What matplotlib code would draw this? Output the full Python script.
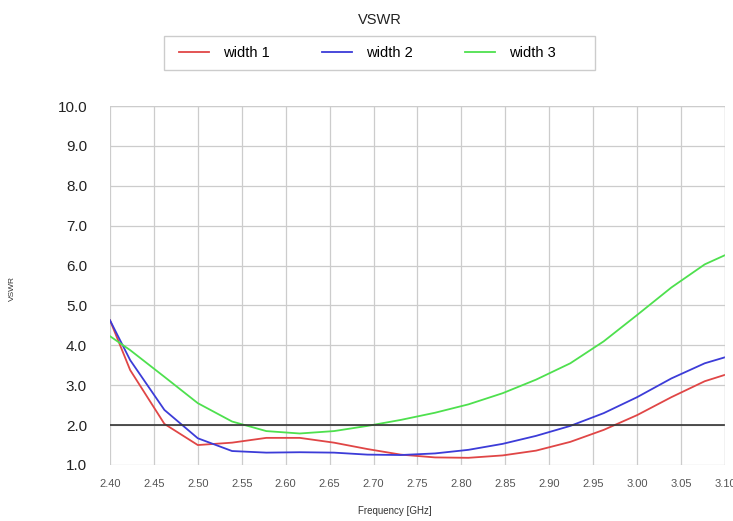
import matplotlib
matplotlib.use("Agg")
import matplotlib.pyplot as plt
from matplotlib.patches import Rectangle

plt.rcParams["font.family"] = ["Liberation Sans", "DejaVu Sans"]

freq = [2.400, 2.423, 2.462, 2.500, 2.539, 2.578, 2.616, 2.655, 2.693, 2.731,
        2.770, 2.808, 2.847, 2.885, 2.924, 2.962, 3.000, 3.039, 3.077, 3.100]
width_1 = [4.63, 3.38, 2.03, 1.50, 1.56, 1.68, 1.68, 1.56, 1.40, 1.26,
           1.19, 1.18, 1.24, 1.36, 1.58, 1.88, 2.25, 2.70, 3.10, 3.26]
width_2 = [4.63, 3.63, 2.38, 1.67, 1.35, 1.31, 1.32, 1.31, 1.26, 1.25,
           1.29, 1.38, 1.53, 1.73, 1.98, 2.30, 2.70, 3.17, 3.55, 3.70]
width_3 = [4.23, 3.88, 3.21, 2.55, 2.09, 1.85, 1.79, 1.85, 1.98, 2.13,
           2.31, 2.52, 2.80, 3.14, 3.55, 4.10, 4.76, 5.45, 6.03, 6.26]
limit = 2.0

x_ticks = [2.40 + 0.05 * i for i in range(15)]
y_ticks = [1.0 + i for i in range(10)]

fig = plt.figure(figsize=(7.33, 5.21), dpi=100)
ax = fig.add_axes([0.150, 0.1075, 0.839, 0.689])

ax.plot(freq, width_1, color="#e04646", lw=1.3, label="width 1")
ax.plot(freq, width_2, color="#3c3cd8", lw=1.3, label="width 2")
ax.plot(freq, width_3, color="#4ee04e", lw=1.3, label="width 3")
ax.axhline(limit, color="#333333", lw=1.2)

ax.set_xlim(2.40, 3.10)
ax.set_ylim(1.0, 10.0)
ax.set_xticks(x_ticks)
ax.set_xticklabels([f"{t:.2f}" for t in x_ticks], fontsize=8, color="#555555")
ax.set_yticks(y_ticks)
ax.set_yticklabels([f"{t:.1f}" for t in y_ticks], fontsize=11, color="#222222")
ax.tick_params(axis="x", length=0, pad=10)
ax.tick_params(axis="y", length=0, pad=16.5)
ax.grid(True, color="#cccccc", lw=0.9)
for s in ax.spines.values():
    s.set_visible(False)
ax.axvline(3.10, color="#cccccc", lw=0.9)
ax.axhline(10.0, color="#cccccc", lw=0.9)

fig.text(0.518, 0.962, "VSWR", ha="center", va="center", fontsize=10.5, color="#222222")

# legend box is wider than its entries, so draw the frame separately
fig.patches.append(Rectangle((0.224, 0.866), 0.588, 0.065, transform=fig.transFigure,
                             facecolor="white", edgecolor="#cccccc", lw=1.0))
fig.legend(loc="center left", bbox_to_anchor=(0.244, 0.898), ncol=3, fontsize=10.5,
           frameon=False, columnspacing=3.6, handlelength=2.05, handletextpad=0.95,
           borderpad=0, borderaxespad=0)
fig.text(0.539, 0.02, "Frequency [GHz]", ha="center", va="center", fontsize=7, color="#333333")
fig.text(0.017, 0.447, "VSWR", ha="center", va="center", rotation=90, fontsize=6, color="#333333")

fig.savefig("out.png", dpi=100)
